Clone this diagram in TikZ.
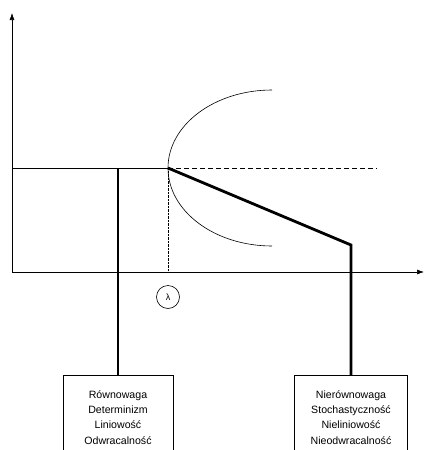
\documentclass[tikz,border=0pt]{standalone}
\usepackage{fontspec}
\setmainfont{Liberation Sans}
\usetikzlibrary{arrows.meta}
\tikzset{
  thinline/.style={line width=0.6pt},
  thickline/.style={line width=2.8pt},
  notebox/.style={draw,line width=0.6pt,minimum width=110pt,minimum height=84pt,
    anchor=north,align=center,font=\fontsize{10.6}{15.3}\selectfont}
}

\begin{document}
\begin{tikzpicture}[x=1pt,y=1pt]
  \useasboundingbox (0,0) rectangle (424,-450);

  % axes
  \coordinate (o) at (12,-272);
  \coordinate (ytop) at (12,-13);
  \coordinate (xend) at (424,-272);
  \draw[thinline,-{Latex[length=7pt,width=5pt]}] (o) -- (ytop);
  \draw[thinline,-{Latex[length=7pt,width=5pt]}] (o) -- (xend);

  % level line and bifurcation point
  \coordinate (l0) at (12,-168);
  \coordinate (b) at (168,-168);
  \coordinate (d) at (377,-168);
  \coordinate (bx) at (168,-272);
  \draw[thinline] (l0) -- (b);
  \draw[thinline,dash pattern=on 5pt off 3pt] (b) -- (d);
  \draw[line width=0.4pt,densely dotted] (b) -- (bx);

  % branches
  \coordinate (top) at (272,-90);
  \draw[thinline] (top) arc[start angle=90,end angle=270,x radius=104,y radius=78];

  \node[draw,circle,line width=0.6pt,minimum size=23pt,inner sep=0pt,
    font=\fontsize{9}{9}\selectfont] (lam) at (168,-297) {λ};

  % boxes
  \node[notebox] (rown) at (118,-375)
    {Równowaga\\Determinizm\\Liniowość\\Odwracalność};
  \node[notebox,minimum width=113pt] (nrown) at (351,-375)
    {Nierównowaga\\Stochastyczność\\Nieliniowość\\Nieodwracalność};

  \coordinate (l1) at (118,-168);
  \coordinate (k) at (351,-245);
  \draw[thickline] (l1) -- (rown.north);
  \draw[thickline,line join=miter] (b) -- (k) -- (nrown.north);

\end{tikzpicture}
\end{document}
